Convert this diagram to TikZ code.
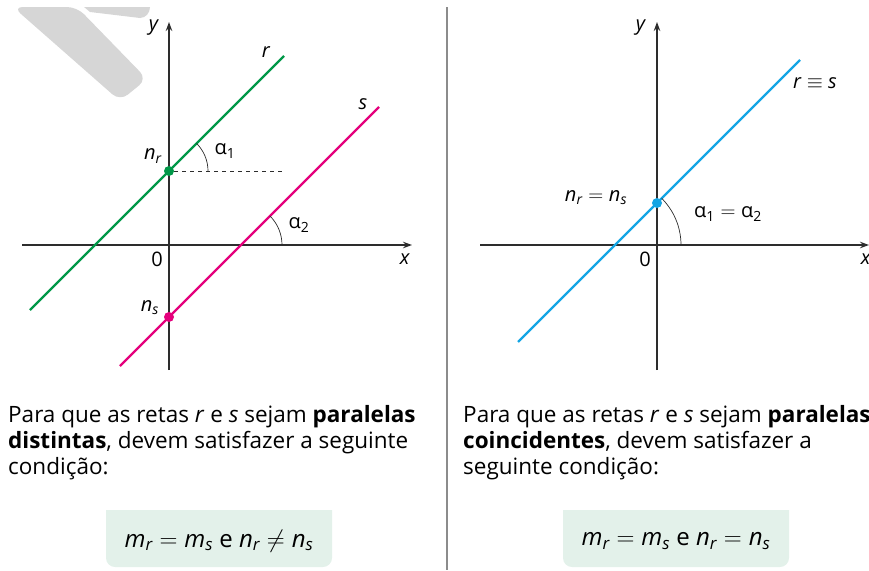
\documentclass[tikz,border=0pt]{standalone}
\usepackage{amsmath}
\usepackage{fontspec}
\setmainfont{Open Sans}
\usetikzlibrary{arrows.meta,calc}

\definecolor{retaR}{RGB}{0,152,72}
\definecolor{retaS}{RGB}{228,0,124}
\definecolor{retaRS}{RGB}{20,165,228}
\definecolor{eixo}{RGB}{45,45,45}
\definecolor{caixa}{RGB}{227,241,234}
\definecolor{marca}{RGB}{214,214,214}
\definecolor{divisor}{RGB}{140,140,140}

\newcommand{\vsub}[2]{\textit{#1}_{\textit{#2}}}
\newcommand{\alf}[1]{\textup{α}_{\textup{#1}}}

\begin{document}
\begin{tikzpicture}[x=1pt, y=-1pt, >={Stealth[length=9pt,width=6.5pt]},
	eixo/.style={draw=eixo, line width=1.2pt},
	reta/.style={line width=2.4pt},
	ponto/.style={circle, inner sep=0pt, minimum size=10pt},
	rotulo/.style={font=\fontsize{20}{22}\selectfont, inner sep=0pt},
	texto/.style={font=\fontsize{22.5}{26.2}\selectfont, align=left, anchor=north west, inner sep=0pt},
	formula/.style={font=\fontsize{24}{26}\selectfont, inner sep=0pt}]
	\useasboundingbox (0,0) rectangle (869,570);
	% watermark in the corner
	\fill[marca, rounded corners=10pt] (13,7) -- (77,7) -- (147,79) -- (120,101) -- cycle;
	\fill[marca] (84,7) -- (150,7) to[out=-90, in=0] (140,18) -- (90,12) -- cycle;
	% divider between the two cases
	\draw[divisor, line width=1.5pt] (447,7) -- (447,570);
	%%% left: parallel and distinct
	\draw[eixo, ->] (22,245) -- (412,245);
	\draw[eixo, ->] (169,370) -- (169,22);
	\node[rotulo] (yL) at (154,28) {\textit{y}};
	\node[rotulo] (xL) at (405,259) {\textit{x}};
	\node[rotulo] (oL) at (157,259) {0};
	% lines r and s
	\coordinate (r0) at (30,310);
	\coordinate (r1) at (284,56);
	\coordinate (s0) at (120,366);
	\coordinate (s1) at (379,107);
	\coordinate (sx) at (241,245);
	\coordinate (tr) at (282,171);
	\draw[reta, retaR] (r0) -- (r1);
	\draw[reta, retaS] (s0) -- (s1);
	\node[ponto, fill=retaR] (nr) at (169,171) {};
	\node[ponto, fill=retaS] (ns) at (169,317) {};
	\draw[eixo, line width=0.7pt, dash pattern=on 4pt off 4pt] (nr.east) -- (tr);
	\draw[eixo, line width=0.7pt] (nr) ++(0:39) arc[start angle=0, end angle=-45, radius=39];
	\draw[eixo, line width=0.7pt] (sx) ++(0:41) arc[start angle=0, end angle=-45, radius=41];
	\node[rotulo] (lblR) at (266,52) {\textit{r}};
	\node[rotulo] (lblS) at (363,104) {\textit{s}};
	\node[rotulo] (lblNr) at (153,156) {$\vsub{n}{r}$};
	\node[rotulo] (lblNs) at (150,308) {$\vsub{n}{s}$};
	\node[rotulo] (a1) at (225,151) {$\alf{1}$};
	\node[rotulo] (a2) at (299,225) {$\alf{2}$};
	%%% right: parallel and coincident
	\draw[eixo, ->] (480,245) -- (869,245);
	\draw[eixo, ->] (657,370) -- (657,22);
	\node[rotulo] (yR) at (641,28) {\textit{y}};
	\node[rotulo] (xR) at (866,259) {\textit{x}};
	\node[rotulo] (oR) at (645,259) {0};
	\coordinate (q0) at (518,342);
	\coordinate (q1) at (800,60);
	\coordinate (qx) at (615,245);
	\draw[reta, retaRS] (q0) -- (q1);
	\node[ponto, fill=retaRS] (nrs) at (657,203) {};
	\draw[eixo, line width=0.7pt] (qx) ++(0:66) arc[start angle=0, end angle=-45, radius=66];
	\node[rotulo] (lblRS) at (815,83) {\textit{r} $\equiv$ \textit{s}};
	\node[rotulo] (lblNrs) at (596,198) {$\vsub{n}{r} = \vsub{n}{s}$};
	\node[rotulo] (a12) at (728,214) {$\alf{1} = \alf{2}$};
	%%% texts and conditions
	\node[texto] (txtL) at (8,405) {Para que as retas \textit{r} e \textit{s} sejam \textbf{paralelas}\\
		\textbf{distintas}, devem satisfazer a seguinte\\condição:};
	\node[texto] (txtR) at (463,405) {Para que as retas \textit{r} e \textit{s} sejam \textbf{paralelas}\\
		\textbf{coincidentes}, devem satisfazer a\\seguinte condição:};
	\begin{scope}
		\clip (0,510) rectangle (869,570);
		\fill[caixa, rounded corners=9pt] (106,495) rectangle (332,567);
		\fill[caixa, rounded corners=9pt] (563,495) rectangle (789,567);
	\end{scope}
	\node[formula] (condL) at (219,541) {$\vsub{m}{r} = \vsub{m}{s}$ e $\vsub{n}{r} \neq \vsub{n}{s}$};
	\node[formula] (condR) at (676,541) {$\vsub{m}{r} = \vsub{m}{s}$ e $\vsub{n}{r} = \vsub{n}{s}$};
\end{tikzpicture}
\end{document}
